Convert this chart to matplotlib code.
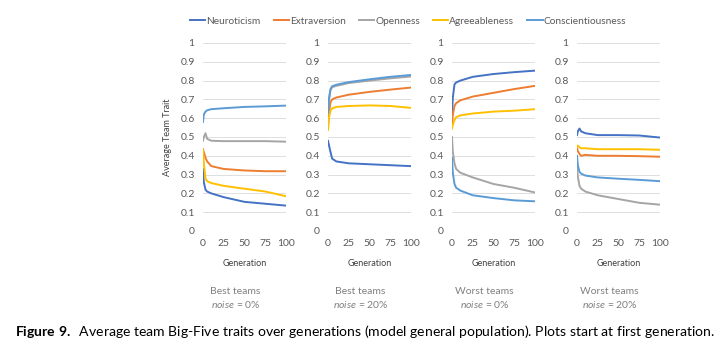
import matplotlib
matplotlib.use("Agg")
import matplotlib.pyplot as plt

plt.rcParams['font.family'] = ['Lato', 'DejaVu Sans']
plt.rcParams['mathtext.fontset'] = 'custom'
plt.rcParams['mathtext.it'] = 'Lato:italic'
plt.rcParams['mathtext.rm'] = 'Lato'
plt.rcParams['mathtext.bf'] = 'Lato:bold'

traits = ['Neuroticism', 'Extraversion', 'Openness', 'Agreeableness', 'Conscientiousness']
colors = ['#4472C4', '#ED7D31', '#A5A5A5', '#FFC000', '#5B9BD5']
gens = [0, 1, 3, 5, 10, 25, 50, 75, 100]

best_0 = {
    'Neuroticism':       [0.33, 0.26, 0.22, 0.21, 0.20, 0.18, 0.155, 0.145, 0.135],
    'Extraversion':      [0.435, 0.42, 0.39, 0.37, 0.345, 0.33, 0.322, 0.318, 0.318],
    'Openness':          [0.48, 0.50, 0.52, 0.49, 0.48, 0.478, 0.478, 0.478, 0.475],
    'Agreeableness':     [0.43, 0.36, 0.28, 0.265, 0.255, 0.24, 0.225, 0.21, 0.185],
    'Conscientiousness': [0.58, 0.62, 0.635, 0.642, 0.648, 0.653, 0.66, 0.663, 0.667],
}
best_20 = {
    'Neuroticism':       [0.48, 0.46, 0.42, 0.385, 0.37, 0.36, 0.355, 0.35, 0.345],
    'Extraversion':      [0.54, 0.62, 0.685, 0.70, 0.71, 0.725, 0.74, 0.752, 0.763],
    'Openness':          [0.625, 0.69, 0.75, 0.765, 0.772, 0.787, 0.80, 0.812, 0.822],
    'Agreeableness':     [0.54, 0.60, 0.64, 0.652, 0.66, 0.665, 0.668, 0.665, 0.655],
    'Conscientiousness': [0.63, 0.70, 0.755, 0.77, 0.778, 0.792, 0.807, 0.82, 0.83],
}
worst_0 = {
    'Neuroticism':       [0.62, 0.71, 0.78, 0.79, 0.80, 0.82, 0.835, 0.845, 0.853],
    'Extraversion':      [0.57, 0.62, 0.665, 0.68, 0.695, 0.715, 0.735, 0.755, 0.772],
    'Openness':          [0.50, 0.42, 0.36, 0.33, 0.31, 0.285, 0.25, 0.23, 0.205],
    'Agreeableness':     [0.545, 0.565, 0.59, 0.605, 0.615, 0.625, 0.635, 0.64, 0.648],
    'Conscientiousness': [0.39, 0.31, 0.25, 0.23, 0.215, 0.19, 0.175, 0.163, 0.158],
}
worst_20 = {
    'Neuroticism':       [0.51, 0.53, 0.545, 0.53, 0.52, 0.51, 0.51, 0.508, 0.497],
    'Extraversion':      [0.44, 0.425, 0.41, 0.40, 0.405, 0.40, 0.40, 0.398, 0.395],
    'Openness':          [0.345, 0.29, 0.24, 0.225, 0.21, 0.19, 0.17, 0.15, 0.14],
    'Agreeableness':     [0.45, 0.455, 0.445, 0.44, 0.44, 0.435, 0.435, 0.435, 0.432],
    'Conscientiousness': [0.40, 0.35, 0.315, 0.305, 0.295, 0.285, 0.278, 0.272, 0.265],
}
panels = [best_0, best_20, worst_0, worst_20]
titles = ['Best teams', 'Best teams', 'Worst teams', 'Worst teams']
noises = ['0%', '20%', '0%', '20%']

W, H = 728, 364
fig = plt.figure(figsize=(W / 100, H / 100), dpi=100)
lefts = [203, 328, 452, 577]
for i, (data, left) in enumerate(zip(panels, lefts)):
    ax = fig.add_axes([left / W, (H - 231) / H, 83 / W, 188 / H])
    for t, c in zip(traits, colors):
        ax.plot(gens, data[t], color=c, lw=1.4, label=t)
    ax.set_xlim(0, 100)
    ax.set_ylim(0, 1)
    ax.set_xticks([0, 25, 50, 75, 100])
    ax.set_yticks([i / 10 for i in range(11)])
    ax.set_yticklabels(['0', '0.1', '0.2', '0.3', '0.4', '0.5', '0.6', '0.7', '0.8', '0.9', '1'])
    ax.grid(axis='y', color='#D9D9D9', lw=0.6)
    ax.set_axisbelow(True)
    for s in ax.spines.values():
        s.set_visible(False)
    ax.tick_params(length=0, labelsize=7.5, colors='#595959', pad=6)
    ax.set_xlabel('Generation', fontsize=6.5, color='#404040', labelpad=8)
    if i == 0:
        ax.set_ylabel('Average Team Trait', fontsize=6.5, color='#404040', labelpad=6)
    cx = (left + 41.5 - 9) / W
    fig.text(cx, 1 - 292 / H, titles[i], ha='center', va='center', fontsize=7.5, color='#808080')
    fig.text(cx, 1 - 305 / H, r'$\it{noise}$ = ' + noises[i], ha='center', va='center',
             fontsize=7.5, color='#808080')
    if i == 0:
        handles, labels = ax.get_legend_handles_labels()

fig.legend(handles, labels, loc='center', bbox_to_anchor=(408 / W, 1 - 21 / H), ncol=5,
           frameon=False, fontsize=7.3, handlelength=1.5, handletextpad=0.1,
           columnspacing=1.3, labelcolor='#595959')

fig.text(15 / W, 1 - 331 / H, r'$\bf{Figure\ 9.}$  Average team Big-Five traits over generations '
         '(model general population). Plots start at first generation.',
         ha='left', va='center', fontsize=10.1, color='black')

fig.savefig('out.png', dpi=100, facecolor='white')
